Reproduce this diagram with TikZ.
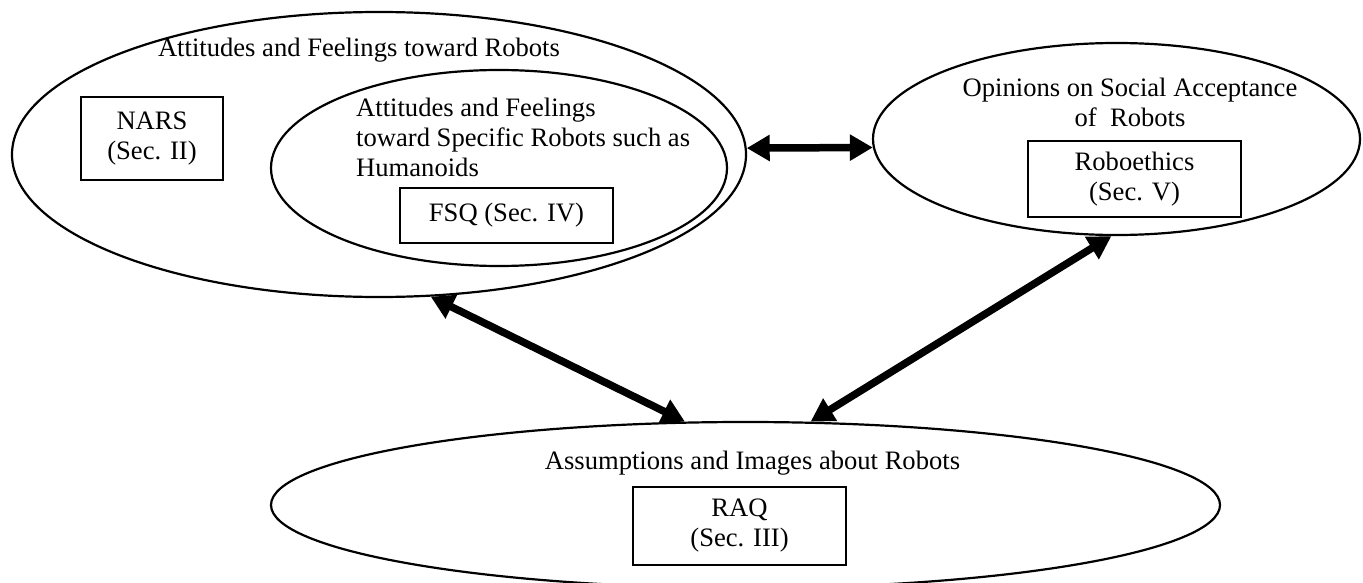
\documentclass[tikz,border=0pt]{standalone}
\usepackage{fontspec}
\setmainfont{Liberation Serif}
\usetikzlibrary{arrows.meta,shapes.geometric}

\begin{document}
\begin{tikzpicture}[x=1pt,y=-1pt,font=\fontsize{26.6}{30}\selectfont,
                    >={Triangle[length=23pt,width=25pt]}]
  \tikzstyle{every node}=[inner sep=0pt]
  \tikzstyle{area}=[ellipse,draw=black,line width=2.2pt]
  \tikzstyle{sec}=[rectangle,draw=black,line width=1.3pt,align=center]
  \tikzstyle{link}=[<->,line width=7.5pt]
  \useasboundingbox (0,0) rectangle (1363,583);

  % regions
  \node[area,minimum width=734pt,minimum height=285pt] (feel)     at (379,154.5)  {};
  \node[area,minimum width=456pt,minimum height=196pt] (specific) at (499,168)    {};
  \node[area,minimum width=487pt,minimum height=192pt] (opinion)  at (1116.5,139) {};
  \node[area,minimum width=949pt,minimum height=166pt] (assume)   at (745.5,505)  {};

  % titles
  \node (feeltext) at (359,50) {Attitudes and Feelings toward Robots};
  \node[anchor=west,align=left] (specifictext) at (356,137)
       {Attitudes and Feelings\\toward Specific Robots such as\\Humanoids};
  \node[align=center] (opiniontext) at (1130,102)
       {Opinions on Social Acceptance\\of\ \ Robots};
  \node (assumetext) at (752.5,463) {Assumptions and Images about Robots};

  % questionnaires
  \node[sec,minimum width=142pt,minimum height=83pt] (nars)   at (152,138.5)  {NARS\\(Sec. II)};
  \node[sec,minimum width=213pt,minimum height=55pt] (fsq)    at (506.5,215.5) {FSQ (Sec. IV)};
  \node[sec,minimum width=213pt,minimum height=76pt] (ethics) at (1134.5,179) {Roboethics\\(Sec. V)};
  \node[sec,minimum width=213pt,minimum height=78pt] (raq)    at (739.5,526)  {RAQ\\(Sec. III)};

  \path (feel.1)    edge[link] (opinion.182)
        (feel.-70)  edge[link] (assume.126)
        (assume.52) edge[link] (opinion.-93);
\end{tikzpicture}
\end{document}
